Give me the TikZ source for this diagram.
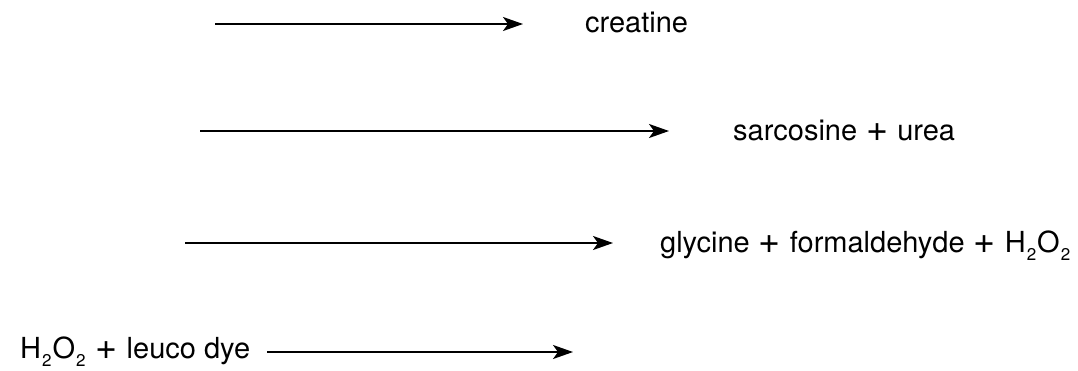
\documentclass[tikz,border=0pt]{standalone}
\usepackage{fontspec}
\usepackage{graphicx}
\setmainfont{TeX Gyre Heros}
\usetikzlibrary{arrows.meta}
\newcommand{\subtwo}{\kern1pt\raisebox{-8pt}{\fontsize{17}{18}\selectfont 2}\kern1pt}
\newcommand{\plussign}{\ \kern1pt\raisebox{-1.5pt}{\scalebox{1.3}{+}}\kern1pt\ }
\begin{document}
\begin{tikzpicture}[x=1pt,y=-1pt,
  lbl/.style={inner sep=0pt,anchor=base west,font=\fontsize{29}{33}\selectfont},
  rxn/.style={line width=1.8pt,-{Stealth[length=20pt,width=14pt,inset=5pt]}}]
\useasboundingbox (0,0) rectangle (1078,370);
\coordinate (a1) at (215,24);
\coordinate (b1) at (523,24);
\node[lbl] (t1) at (585,32) {creatine};
\coordinate (a2) at (200,131);
\coordinate (b2) at (669,131);
\node[lbl] (t2) at (733,140) {sarcosine\plussign urea};
\coordinate (a3) at (185,243);
\coordinate (b3) at (613,243);
\node[lbl] (t3) at (660,252) {glycine\plussign formaldehyde\plussign H\subtwo O\subtwo};
\node[lbl] (t4) at (20,358) {H\subtwo O\subtwo\plussign leuco dye};
\coordinate (a4) at (267,352);
\coordinate (b4) at (573,352);
\draw[rxn] (a1) -- (b1);
\draw[rxn] (a2) -- (b2);
\draw[rxn] (a3) -- (b3);
\draw[rxn] (a4) -- (b4);
\end{tikzpicture}
\end{document}
